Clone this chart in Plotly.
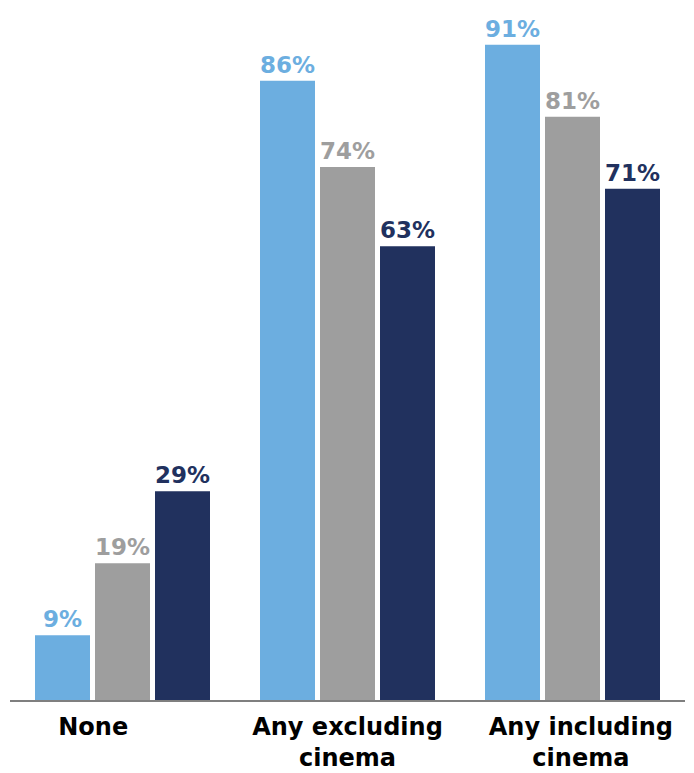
import plotly.graph_objects as go

categories = ["None", "Any excluding<br>cinema", "Any including<br>cinema"]
tick_labels = ["None" + "\u00a0" * 7, "Any excluding<br>cinema", "\u00a0\u00a0Any including<br>\u00a0\u00a0cinema"]
series_a = [9, 86, 91]
series_b = [19, 74, 81]
series_c = [29, 63, 71]
colors = ["#6CAEE0", "#9E9E9E", "#21315E"]

fig = go.Figure()
for vals, col, name in zip([series_a, series_b, series_c], colors, ["A", "B", "C"]):
    fig.add_trace(go.Bar(
        x=categories, y=vals, name=name,
        marker=dict(color=col, line=dict(width=0)),
        text=[f"{v}%" for v in vals], textposition="outside",
        textfont=dict(family="DejaVu Sans", size=23, color=col, weight="bold"),
        cliponaxis=False,
    ))

fig.update_layout(
    width=694, height=773,
    margin=dict(l=10, r=9, t=0, b=73),
    barmode="group", bargap=0.2, bargroupgap=0.0833,
    showlegend=False,
    plot_bgcolor="white", paper_bgcolor="white",
    xaxis=dict(showline=True, linecolor="#7F7F7F", linewidth=1.5, ticks="",
               automargin=False, ticklabelstandoff=4,
               tickmode="array", tickvals=categories, ticktext=tick_labels,
               tickfont=dict(family="DejaVu Sans", size=24, color="black", weight="bold")),
    yaxis=dict(range=[0, 97.2], visible=False, showgrid=False, automargin=False),
)
fig.write_html("out.html", config={"displayModeBar": False},
               post_script="document.body.style.margin='0px';")
